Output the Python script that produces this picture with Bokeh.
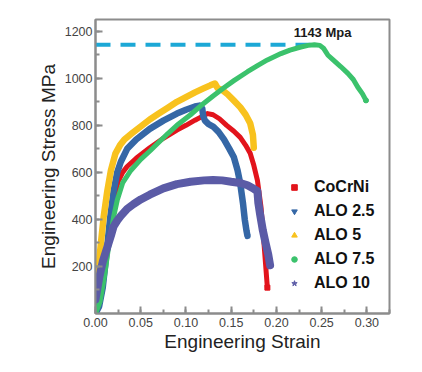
from bokeh.plotting import figure
from bokeh.models import Range1d, FixedTicker, Legend, LegendItem
from bokeh.core.properties import value
from bokeh.embed import file_html
from bokeh.resources import INLINE
import numpy as np

# ---- data ----
cocrni_strain = [0.000, 0.004, 0.008, 0.012, 0.016, 0.020, 0.025, 0.030, 0.035, 0.045, 0.060, 0.075,
                 0.090, 0.100, 0.110, 0.118, 0.124, 0.130, 0.137, 0.145, 0.153, 0.160, 0.166, 0.171,
                 0.175, 0.179, 0.183, 0.186, 0.188, 0.190]
cocrni_stress = [0, 40, 120, 240, 370, 480, 560, 600, 625, 660, 705, 745,
                 780, 800, 822, 838, 850, 845, 828, 800, 775, 749, 715, 681,
                 630, 566, 451, 311, 210, 110]

alo25_strain = [0.000, 0.004, 0.008, 0.012, 0.016, 0.020, 0.024, 0.028, 0.035, 0.045, 0.060, 0.075,
                0.090, 0.100, 0.110, 0.115, 0.118, 0.119, 0.121, 0.125, 0.130, 0.136, 0.142, 0.148,
                0.153, 0.157, 0.160, 0.163, 0.165, 0.167, 0.168]
alo25_stress = [0, 30, 110, 250, 400, 520, 600, 645, 700, 740, 785, 820,
                850, 866, 880, 884, 872, 840, 820, 805, 795, 772, 740, 700,
                664, 610, 553, 470, 400, 350, 330]

alo5_strain = [0.000, 0.003, 0.006, 0.009, 0.013, 0.017, 0.022, 0.027, 0.032, 0.040, 0.050, 0.060,
               0.070, 0.080, 0.090, 0.100, 0.110, 0.120, 0.127, 0.132, 0.135, 0.140, 0.146, 0.153,
               0.160, 0.166, 0.171, 0.174, 0.175]
alo5_stress = [60, 180, 300, 410, 520, 608, 680, 715, 740, 765, 795, 825,
               850, 875, 900, 920, 940, 958, 970, 978, 958, 950, 932, 905,
               877, 845, 809, 760, 705]

alo75_strain = [0.000, 0.005, 0.010, 0.014, 0.017, 0.020, 0.024, 0.030, 0.039, 0.050, 0.061, 0.070,
                0.080, 0.090, 0.105, 0.116, 0.130, 0.142, 0.153, 0.168, 0.180, 0.190, 0.205, 0.215,
                0.227, 0.235, 0.242, 0.248, 0.252, 0.255, 0.257, 0.263, 0.271, 0.279, 0.285, 0.290,
                0.295, 0.299]
alo75_stress = [0, 50, 160, 270, 340, 410, 481, 555, 608, 655, 694, 728,
                765, 800, 845, 882, 925, 960, 990, 1028, 1056, 1078, 1105, 1120,
                1133, 1140, 1143, 1140, 1128, 1110, 1098, 1077, 1050, 1021, 995, 962,
                935, 906]

alo10_strain = [0.000, 0.004, 0.008, 0.013, 0.017, 0.020, 0.024, 0.028, 0.035, 0.042, 0.050, 0.060,
                0.075, 0.090, 0.105, 0.120, 0.130, 0.140, 0.150, 0.160, 0.168, 0.175, 0.179, 0.180,
                0.182, 0.185, 0.188, 0.191, 0.193]
alo10_stress = [60, 150, 220, 281, 330, 370, 395, 415, 445, 465, 485, 505,
                532, 550, 560, 566, 568, 566, 560, 555, 545, 530, 520, 470,
                420, 353, 300, 250, 205]

series_names = ["CoCrNi", "ALO 2.5", "ALO 5", "ALO 7.5", "ALO 10"]
peak_stress = 1143
peak_strain = 0.242
peak_label = "1143 Mpa"

x_ticks = [0.00, 0.05, 0.10, 0.15, 0.20, 0.25, 0.30]
y_ticks = [200, 400, 600, 800, 1000, 1200]

# ---- styling ----
colors = ["#e2141c", "#3567a6", "#f8c21e", "#3bc26c", "#5b5ba6"]
widths = [5, 6.5, 6.5, 5, 8]
markers = ["square", "inverted_triangle", "triangle", "circle", "star"]
angles = [0, 0, np.pi / 2, 0, 0]
FONT = "Liberation Sans"
GRAY = "#8c8c8c"

p = figure(width=422, height=372, output_backend="svg", toolbar_location=None,
           x_range=Range1d(0, 0.325), y_range=Range1d(0, 1250),
           min_border_left=95, min_border_right=33, min_border_top=19, min_border_bottom=59)
p.grid.visible = False
p.outline_line_color = GRAY
p.outline_line_width = 2
p.background_fill_color = "white"
p.border_fill_color = "white"

# dashed reference line
p.line([0, peak_strain], [peak_stress, peak_stress], line_color="#1ca8d6",
       line_width=4, line_dash="15 10")
p.text([0.251], [peak_stress], text=[peak_label], text_font=value(FONT),
       text_font_style="bold", text_font_size="13px", text_color="#1a1a1a",
       text_align="center", text_baseline="bottom", y_offset=-5)

curves = [(cocrni_strain, cocrni_stress), (alo25_strain, alo25_stress),
          (alo5_strain, alo5_stress), (alo75_strain, alo75_stress),
          (alo10_strain, alo10_stress)]
for (xs, ys), c, w in zip(curves, colors, widths):
    p.line(xs, ys, line_color=c, line_width=w, line_join="round", line_cap="round")

items = []
for (xs, ys), name, c, m, a in zip(curves, series_names, colors, markers, angles):
    # marker at the end point of each curve (also used as the legend glyph)
    r = p.scatter(x=[xs[-1]], y=[ys[-1]], marker=m, angle=a, fill_color=c, line_color=c, size=5)
    items.append(LegendItem(label=name, renderers=[r]))

legend = Legend(items=items, location=(192, 21), padding=0, margin=0, spacing=6,
                glyph_width=14, glyph_height=14, label_height=18, label_standoff=13,
                label_text_font=FONT, label_text_font_style="bold",
                label_text_font_size="16px", label_text_color="#111111",
                background_fill_alpha=0, border_line_alpha=0)
p.add_layout(legend, "center")

for ax in (p.xaxis[0], p.yaxis[0]):
    ax.axis_line_color = GRAY
    ax.axis_line_width = 2
    ax.major_tick_line_color = GRAY
    ax.minor_tick_line_color = GRAY
    ax.major_tick_line_width = 2
    ax.minor_tick_line_width = 2
    ax.major_tick_in = 7
    ax.major_tick_out = 0
    ax.minor_tick_in = 4
    ax.minor_tick_out = 0
    ax.major_label_text_font = FONT
    ax.major_label_text_font_size = "12.5px"
    ax.major_label_text_color = "#444444"
    ax.axis_label_text_font = FONT
    ax.axis_label_text_font_size = "19px"
    ax.axis_label_text_font_style = "normal"
    ax.axis_label_text_color = "#222222"

p.xaxis.ticker = FixedTicker(ticks=x_ticks,
                             minor_ticks=[round(0.025 * i, 3) for i in range(14)])
p.yaxis.ticker = FixedTicker(ticks=y_ticks, minor_ticks=list(range(100, 1300, 100)))
p.xaxis.major_label_overrides = {t: f"{t:.2f}" for t in x_ticks}
p.xaxis.axis_label = "Engineering Strain"
p.yaxis.axis_label = "Engineering Stress MPa"
p.xaxis.major_label_standoff = 4
p.yaxis.major_label_standoff = 3
p.xaxis.axis_label_standoff = 1
p.yaxis.axis_label_standoff = 3

open("out.html", "w").write(file_html(p, INLINE))
